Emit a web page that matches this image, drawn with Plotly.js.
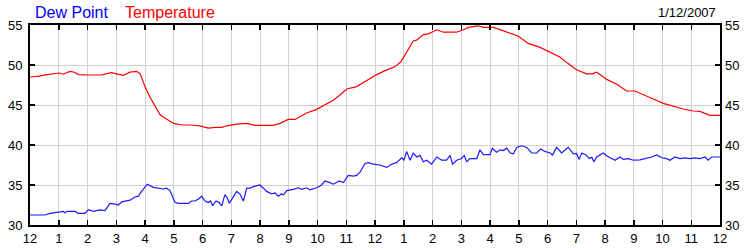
<!DOCTYPE html>
<html>
<head>
<meta charset="utf-8">
<script src="https://cdn.plot.ly/plotly-3.0.1.min.js"></script>
<style>html,body{margin:0;padding:0;background:#fff;}#chart{width:750px;height:250px;}</style>
</head>
<body>
<div id="chart"></div>
<script>
// Hours after midnight (0..24) and readings in °F
const tempHours = [0,0.3,0.6,0.9,1.02,1.15,1.39,1.55,1.68,2.03,2.3,2.49,2.7,2.84,3.05,3.25,3.48,3.71,3.83,4.0,4.17,4.35,4.52,4.64,4.81,4.99,5.28,5.6,5.91,6.2,6.45,6.67,6.84,7.19,7.54,7.83,8.1,8.46,8.7,8.98,9.22,9.62,9.97,10.32,10.55,10.78,11.02,11.36,11.71,12.06,12.35,12.7,12.9,13.04,13.2,13.33,13.45,13.68,13.86,14.15,14.38,14.84,15.07,15.25,15.59,15.77,16.12,16.35,16.6,16.99,17.33,17.74,18.03,18.43,18.67,19.01,19.36,19.55,19.71,20.06,20.41,20.75,21.04,21.33,21.68,22.03,22.38,22.72,23.07,23.3,23.65,24];
const tempValues = [48.5,48.6,48.8,48.9,49.0,48.85,49.2,49.1,48.8,48.75,48.8,48.75,48.95,49.05,48.85,48.7,49.1,49.2,48.9,47.3,46.0,44.8,43.8,43.5,43.1,42.7,42.5,42.5,42.4,42.1,42.2,42.2,42.4,42.6,42.7,42.45,42.45,42.45,42.7,43.2,43.2,44.0,44.45,45.1,45.6,46.25,47.0,47.3,48.1,48.8,49.3,49.8,50.4,51.25,52.2,53.0,53.1,53.8,53.9,54.4,54.1,54.1,54.4,54.7,54.9,54.7,54.7,54.4,54.1,53.6,52.7,52.2,51.7,51.0,50.3,49.4,48.9,48.9,49.1,48.2,47.6,46.75,46.75,46.25,45.75,45.2,44.8,44.5,44.25,44.2,43.7,43.7];

const dewHours = [0,0.52,0.7,0.99,1.16,1.22,1.28,1.57,1.68,1.91,2.03,2.2,2.43,2.61,2.78,2.96,3.07,3.19,3.36,3.48,3.65,3.77,3.88,4.08,4.29,4.52,4.64,4.75,4.87,5.04,5.16,5.51,5.62,5.74,5.86,5.97,6.09,6.2,6.28,6.35,6.47,6.58,6.67,6.78,6.86,6.93,7.01,7.19,7.3,7.42,7.54,7.65,7.77,8.0,8.12,8.23,8.41,8.52,8.64,8.75,8.81,8.93,9.16,9.33,9.45,9.62,9.74,9.97,10.14,10.26,10.43,10.55,10.76,10.9,11.07,11.25,11.36,11.48,11.65,11.77,11.94,12.17,12.41,12.58,12.75,12.93,13.01,13.1,13.22,13.33,13.45,13.57,13.68,13.8,13.97,14.15,14.32,14.49,14.61,14.7,14.84,15.01,15.1,15.19,15.3,15.54,15.65,15.77,16.0,16.08,16.23,16.35,16.46,16.58,16.7,16.81,16.93,17.1,17.28,17.45,17.62,17.76,17.91,18.09,18.17,18.32,18.49,18.61,18.72,18.9,19.01,19.1,19.19,19.34,19.45,19.54,19.62,19.71,19.83,19.94,20.08,20.23,20.35,20.52,20.64,20.81,20.99,21.22,21.45,21.62,21.8,21.97,22.14,22.26,22.43,22.61,22.78,22.96,23.13,23.3,23.48,23.59,23.71,24];
const dewValues = [31.25,31.25,31.45,31.55,31.7,31.5,31.7,31.7,31.45,31.45,31.9,31.7,31.9,31.8,32.7,32.6,32.5,32.9,33.0,33.1,33.5,33.6,34.2,35.1,34.7,34.6,34.5,34.6,34.3,32.85,32.7,32.7,33.0,33.0,33.25,33.6,33.0,32.8,33.0,32.4,33.0,32.8,32.4,33.8,33.4,32.7,33.2,34.2,33.9,33.0,34.6,34.6,34.8,35.0,34.6,34.2,33.9,34.0,33.6,33.9,33.75,34.3,34.45,34.65,34.45,34.65,34.4,34.65,35.0,35.5,35.3,35.1,35.5,35.3,36.2,36.1,36.2,36.6,37.7,37.8,37.6,37.5,37.2,37.6,37.8,38.4,38.1,39.2,38.1,39.0,38.5,38.7,37.9,38.1,37.6,38.5,38.1,38.1,38.7,37.6,38.1,38.3,38.7,37.9,38.3,38.3,39.4,38.8,38.8,39.6,39.1,39.4,39.3,39.6,39.0,38.9,39.7,39.9,39.7,39.0,39.0,39.5,39.2,39.0,38.75,39.7,39.0,39.4,39.7,38.9,38.95,38.2,39.0,38.75,38.3,38.45,37.9,38.5,38.75,39.0,38.6,38.3,38.1,38.5,38.2,38.3,38.1,38.15,38.3,38.5,38.75,38.4,38.3,38.1,38.5,38.3,38.4,38.3,38.4,38.3,38.5,38.1,38.5,38.5];

const xTickVals = [0,1,2,3,4,5,6,7,8,9,10,11,12,13,14,15,16,17,18,19,20,21,22,23,24];
const xTickText = ["12","1","2","3","4","5","6","7","8","9","10","11","12","1","2","3","4","5","6","7","8","9","10","11","12"];
const yTickVals = [30,35,40,45,50,55];
const seriesNames = ["Dew Point","Temperature"];
const dateLabel = "1/12/2007";

const FONT = "Arial, 'Liberation Sans', sans-serif";

const traces = [
  {x: tempHours, y: tempValues, type: 'scatter', mode: 'lines', name: seriesNames[1],
   line: {color: '#ff0000', width: 1.2}, hoverinfo: 'skip'},
  {x: dewHours, y: dewValues, type: 'scatter', mode: 'lines', name: seriesNames[0],
   line: {color: '#1a1aff', width: 1.2}, hoverinfo: 'skip'},
  {x: [null], y: [null], yaxis: 'y2', type: 'scatter', mode: 'lines', showlegend: false, hoverinfo: 'skip'}
];

const layout = {
  width: 750, height: 250,
  margin: {l: 30, r: 30, t: 25, b: 25, pad: 0},
  paper_bgcolor: '#ffffff', plot_bgcolor: '#ffffff',
  showlegend: false,
  font: {family: FONT, size: 13, color: '#000'},
  xaxis: {
    range: [0, 24], tickmode: 'array', tickvals: xTickVals, ticktext: xTickText,
    ticks: 'inside', ticklen: 5, tickwidth: 1.5, tickcolor: '#000',
    showline: true, linecolor: '#000', linewidth: 2, mirror: 'ticks',
    showgrid: true, gridcolor: '#d0d0d0', gridwidth: 1, zeroline: false,
    tickfont: {family: FONT, size: 13, color: '#000'}, fixedrange: true
  },
  yaxis: {
    range: [30, 55], tickmode: 'array', tickvals: yTickVals,
    ticks: 'inside', ticklen: 5, tickwidth: 1.5, tickcolor: '#000',
    showline: true, linecolor: '#000', linewidth: 2, mirror: 'ticks',
    showgrid: true, gridcolor: '#d0d0d0', gridwidth: 1, zeroline: false,
    tickfont: {family: FONT, size: 13, color: '#000'}, ticklabelstandoff: 3, fixedrange: true
  },
  yaxis2: {
    range: [30, 55], tickmode: 'array', tickvals: yTickVals,
    overlaying: 'y', side: 'right', ticks: '', showline: false, showgrid: false, zeroline: false,
    tickfont: {family: FONT, size: 13, color: '#000'}, ticklabelstandoff: 4, fixedrange: true
  },
  annotations: [
    {text: seriesNames[0], xref: 'paper', yref: 'paper', x: 0.004, y: 1.065, xanchor: 'left', yanchor: 'middle',
     showarrow: false, font: {family: FONT, size: 16, color: '#0000ff'}},
    {text: seriesNames[1], xref: 'paper', yref: 'paper', x: 0.135, y: 1.065, xanchor: 'left', yanchor: 'middle',
     showarrow: false, font: {family: FONT, size: 16, color: '#ff0000'}},
    {text: dateLabel, xref: 'paper', yref: 'paper', x: 0.997, y: 1.065, xanchor: 'right', yanchor: 'middle',
     showarrow: false, font: {family: FONT, size: 13, color: '#000'}}
  ]
};

Plotly.newPlot('chart', traces, layout, {staticPlot: true, displayModeBar: false});
</script>
</body>
</html>
